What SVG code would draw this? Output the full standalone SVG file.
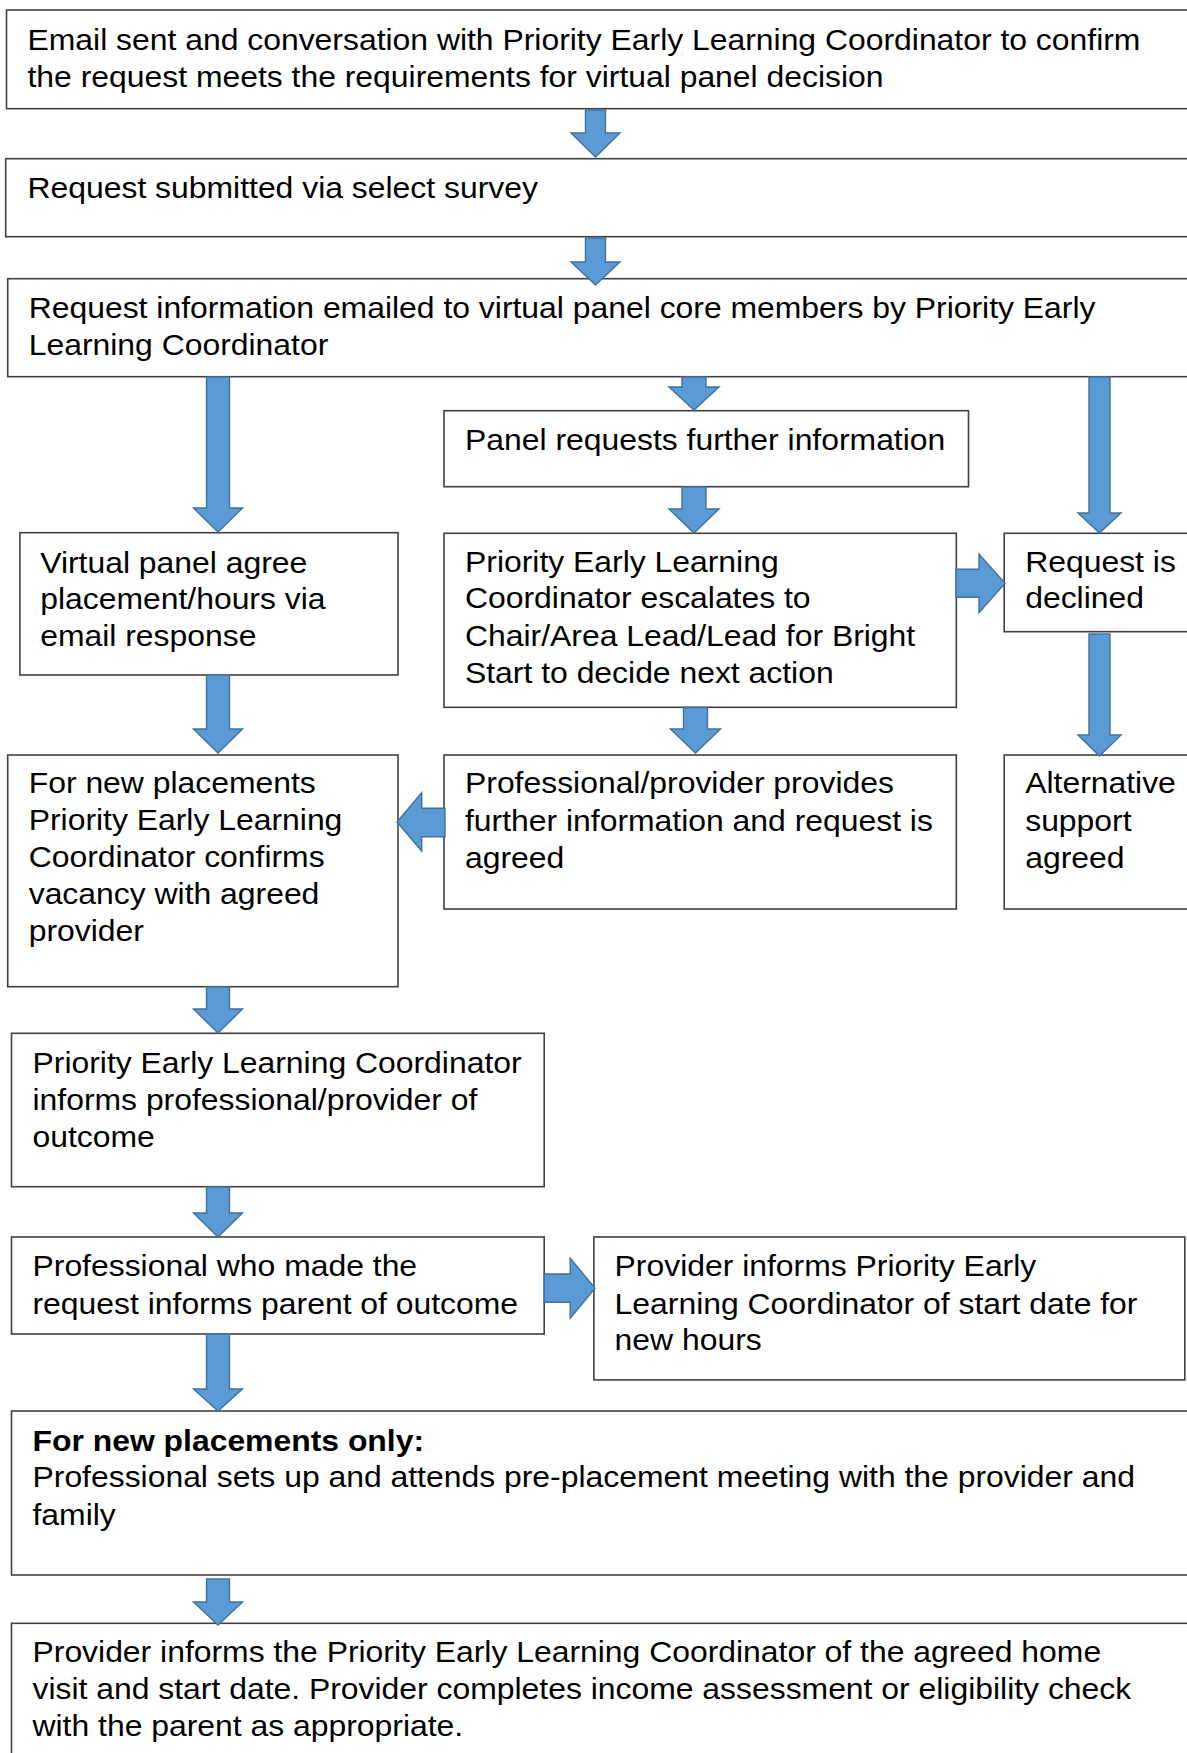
<svg xmlns="http://www.w3.org/2000/svg" width="1187" height="1753" viewBox="0 0 1187 1753">
<style>
.box{fill:#ffffff;stroke:#404040;stroke-width:1.6}
.t{font-family:"Liberation Sans",Arial,sans-serif;font-size:29px;fill:#000000}
.b{font-weight:bold}
.arr{fill:#5B9BD5;stroke:#41719C;stroke-width:1.4;stroke-linejoin:miter}
</style>
<rect width="1187" height="1753" fill="#ffffff"/>
<g id="n1"><rect class="box" x="6.5" y="10" width="1190" height="98.7"/>
<text class="t" transform="translate(27.5 0) scale(1.1 1)"><tspan x="0" y="50">Email sent and conversation with Priority Early Learning Coordinator to confirm</tspan><tspan x="0" y="87.3">the request meets the requirements for virtual panel decision</tspan></text></g>
<g id="n2"><rect class="box" x="5.7" y="158.7" width="1190" height="78"/>
<text class="t" transform="translate(27.5 0) scale(1.1 1)"><tspan x="0" y="198.3">Request submitted via select survey</tspan></text></g>
<g id="n3"><rect class="box" x="7.7" y="278.7" width="1190" height="98"/>
<text class="t" transform="translate(28.7 0) scale(1.1 1)"><tspan x="0" y="318.3">Request information emailed to virtual panel core members by Priority Early</tspan><tspan x="0" y="355">Learning Coordinator</tspan></text></g>
<g id="n4"><rect class="box" x="444" y="410.7" width="524.5" height="76"/>
<text class="t" transform="translate(465 0) scale(1.1 1)"><tspan x="0" y="450">Panel requests further information</tspan></text></g>
<g id="n5"><rect class="box" x="19.9" y="532.7" width="378.1" height="142.3"/>
<text class="t" transform="translate(40.2 0) scale(1.1 1)"><tspan x="0" y="572.7">Virtual panel agree</tspan><tspan x="0" y="609.3">placement/hours via</tspan><tspan x="0" y="646">email response</tspan></text></g>
<g id="n6"><rect class="box" x="444" y="533.3" width="512.3" height="174"/>
<text class="t" transform="translate(465 0) scale(1.1 1)"><tspan x="0" y="571.7">Priority Early Learning</tspan><tspan x="0" y="608.3">Coordinator escalates to</tspan><tspan x="0" y="645.7">Chair/Area Lead/Lead for Bright</tspan><tspan x="0" y="682.7">Start to decide next action</tspan></text></g>
<g id="n7"><rect class="box" x="1004.2" y="533.3" width="190" height="98.4"/>
<text class="t" transform="translate(1025.2 0) scale(1.1 1)"><tspan x="0" y="571.7">Request is</tspan><tspan x="0" y="608.3">declined</tspan></text></g>
<g id="n8"><rect class="box" x="7.7" y="755" width="390.3" height="231.7"/>
<text class="t" transform="translate(28.7 0) scale(1.1 1)"><tspan x="0" y="793.3">For new placements</tspan><tspan x="0" y="830">Priority Early Learning</tspan><tspan x="0" y="867.3">Coordinator confirms</tspan><tspan x="0" y="904.3">vacancy with agreed</tspan><tspan x="0" y="941">provider</tspan></text></g>
<g id="n9"><rect class="box" x="444" y="755" width="512.3" height="154"/>
<text class="t" transform="translate(465 0) scale(1.1 1)"><tspan x="0" y="793.3">Professional/provider provides</tspan><tspan x="0" y="830.7">further information and request is</tspan><tspan x="0" y="867.7">agreed</tspan></text></g>
<g id="n10"><rect class="box" x="1004.2" y="755" width="190" height="154"/>
<text class="t" transform="translate(1025.2 0) scale(1.1 1)"><tspan x="0" y="793.3">Alternative</tspan><tspan x="0" y="830.7">support</tspan><tspan x="0" y="867.7">agreed</tspan></text></g>
<g id="n11"><rect class="box" x="11.5" y="1033.3" width="532.7" height="153.4"/>
<text class="t" transform="translate(32.5 0) scale(1.1 1)"><tspan x="0" y="1073.3">Priority Early Learning Coordinator</tspan><tspan x="0" y="1110">informs professional/provider of</tspan><tspan x="0" y="1146.7">outcome</tspan></text></g>
<g id="n12"><rect class="box" x="11.5" y="1237" width="532.7" height="97"/>
<text class="t" transform="translate(32.5 0) scale(1.1 1)"><tspan x="0" y="1275.8">Professional who made the</tspan><tspan x="0" y="1313.6">request informs parent of outcome</tspan></text></g>
<g id="n13"><rect class="box" x="593.9" y="1237" width="590.9" height="142.9"/>
<text class="t" transform="translate(614.6 0) scale(1.1 1)"><tspan x="0" y="1275.8">Provider informs Priority Early</tspan><tspan x="0" y="1313.6">Learning Coordinator of start date for</tspan><tspan x="0" y="1350">new hours</tspan></text></g>
<g id="n14"><rect class="box" x="11.5" y="1411" width="1190" height="164"/>
<text class="t" transform="translate(32.5 0) scale(1.1 1)"><tspan class="b" x="0" y="1451">For new placements only:</tspan><tspan x="0" y="1487.5">Professional sets up and attends pre-placement meeting with the provider and</tspan><tspan x="0" y="1525.2">family</tspan></text></g>
<g id="n15"><rect class="box" x="11.5" y="1623.3" width="1190" height="160"/>
<text class="t" transform="translate(32.5 0) scale(1.1 1)"><tspan x="0" y="1662">Provider informs the Priority Early Learning Coordinator of the agreed home</tspan><tspan x="0" y="1699">visit and start date. Provider completes income assessment or eligibility check</tspan><tspan x="0" y="1736">with the parent as appropriate.</tspan></text></g>
<g id="connectors">
<polygon class="arr" points="585.5,110 605.5,110 605.5,133 620,133 595.5,157 571,133 585.5,133"/>
<polygon class="arr" points="585.5,238 605.5,238 605.5,262 620,262 595.5,285 571,262 585.5,262"/>
<polygon class="arr" points="206.5,377 229.5,377 229.5,508 242.5,508 218,532 193.5,508 206.5,508"/>
<polygon class="arr" points="682,377 706,377 706,387 719,387 694,410 669,387 682,387"/>
<polygon class="arr" points="1089,377 1110,377 1110,513 1121,513 1099.5,533 1078,513 1089,513"/>
<polygon class="arr" points="682,487 706,487 706,509 719,509 694,533 669,509 682,509"/>
<polygon class="arr" points="956,569.3 979,569.3 979,554 1005,583.3 979,612.7 979,597.3 956,597.3"/>
<polygon class="arr" points="1089,634 1110,634 1110,735 1121,735 1099.5,756 1078,735 1089,735"/>
<polygon class="arr" points="683.5,707.5 707.5,707.5 707.5,729 720.5,729 695.5,753 670.5,729 683.5,729"/>
<polygon class="arr" points="206.5,675 229.5,675 229.5,729 242.5,729 218,753 193.5,729 206.5,729"/>
<polygon class="arr" points="445,808.3 421.7,808.3 421.7,792.7 397,822 421.7,851 421.7,836.7 445,836.7"/>
<polygon class="arr" points="206.5,987 229.5,987 229.5,1009 242.5,1009 218,1033 193.5,1009 206.5,1009"/>
<polygon class="arr" points="206.5,1187 229.5,1187 229.5,1213 242.5,1213 218,1237 193.5,1213 206.5,1213"/>
<polygon class="arr" points="544.2,1274 570.2,1274 570.2,1258.2 595,1288.2 570.2,1318.2 570.2,1302.3 544.2,1302.3"/>
<polygon class="arr" points="206.5,1334 229.5,1334 229.5,1389 242.5,1389 218,1411 193.5,1389 206.5,1389"/>
<polygon class="arr" points="206.5,1579 229.5,1579 229.5,1602 242.5,1602 218,1625 193.5,1602 206.5,1602"/>
</g>
</svg>
